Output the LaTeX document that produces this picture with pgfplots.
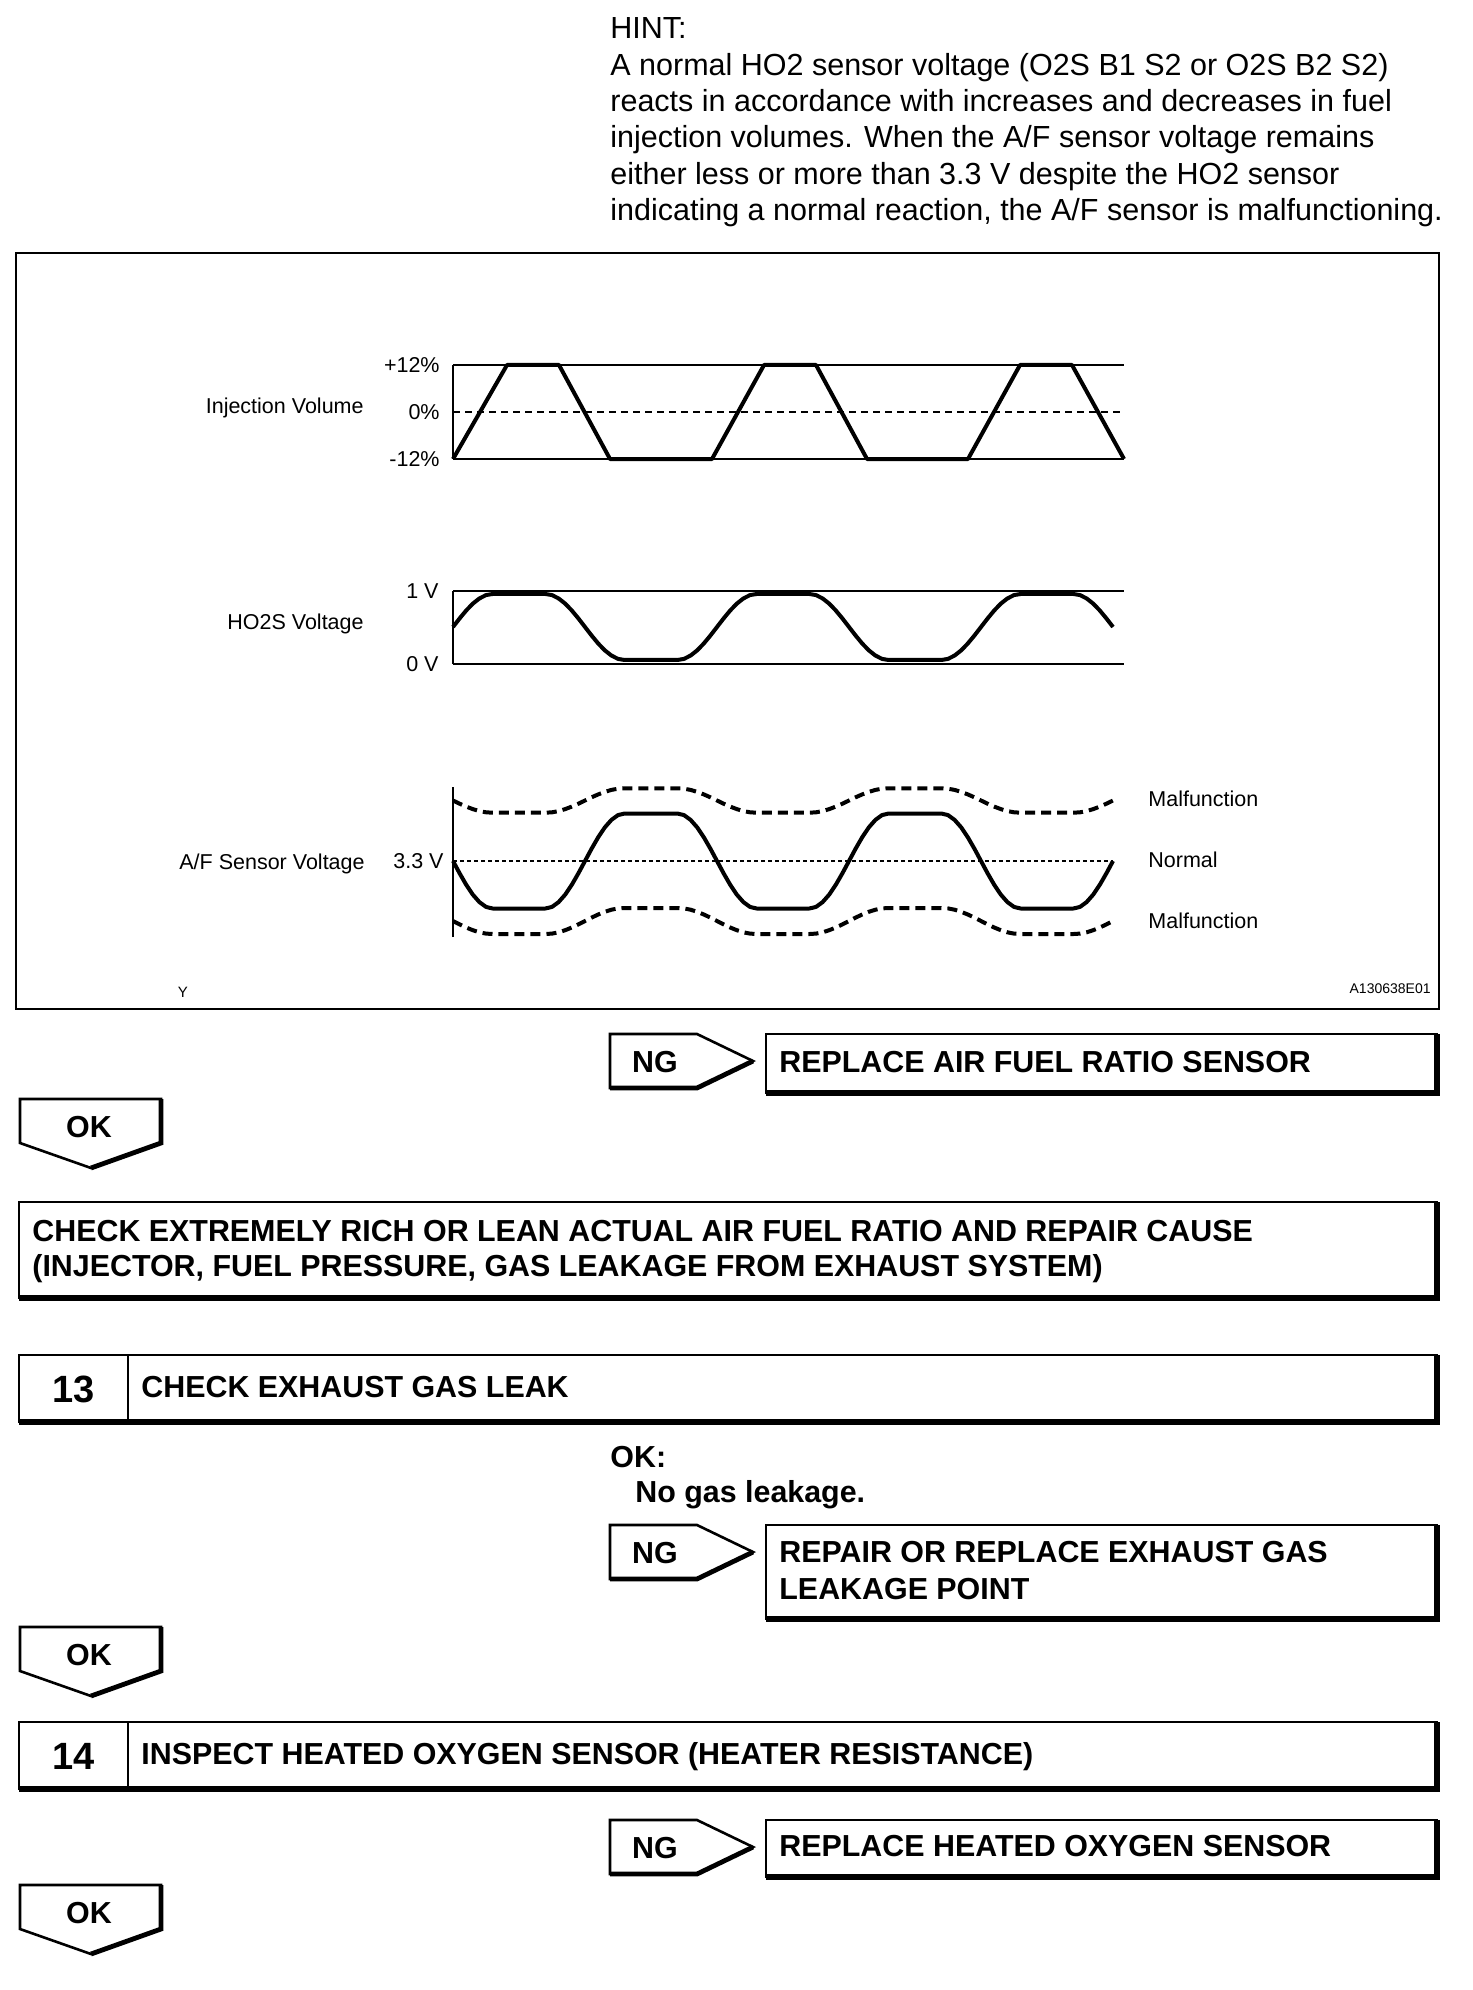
\documentclass[border=0pt]{standalone}
\usepackage{fontspec}
\setmainfont{Liberation Sans}
\usepackage{pgfplots}
\pgfplotsset{compat=1.18}
\usepackage{pgfplotstable}

% injection volume (percent) against time
\pgfplotstableread{
x y
453 -12
507 12
559 12
610 -12
712 -12
764 12
816 12
867 -12
968 -12
1020 12
1072 12
1124 -12
}\injtable

% HO2S voltage, A/F sensor (normal), malfunction high / low
\pgfplotstableread{
x ho2 af top bot
453 0.507 76 136.5 16
459.6 0.624 63.7 133.3 12.6
466.2 0.733 52.25 130.4 9.5
472.8 0.827 42.4 127.9 6.8
479.4 0.898 34.9 125.9 4.7
486 0.944 30.1 124.7 3.4
492.6 0.959 28.5 124.3 3
545.4 0.959 28.5 124.3 3
552 0.944 30.1 124.7 3.4
558.6 0.898 34.9 125.9 4.7
565.2 0.827 42.4 127.9 6.8
571.8 0.733 52.25 130.4 9.5
578.4 0.624 63.7 133.3 12.6
585 0.507 76 136.5 16
591.6 0.390 88.3 139.7 19.4
598.2 0.281 99.75 142.6 22.5
604.8 0.187 109.6 145.1 25.2
611.4 0.116 117.1 147.1 27.3
618 0.070 121.9 148.3 28.6
624.6 0.055 123.5 148.7 29
677.4 0.055 123.5 148.7 29
684 0.070 121.9 148.3 28.6
690.6 0.116 117.1 147.1 27.3
697.2 0.187 109.6 145.1 25.2
703.8 0.281 99.75 142.6 22.5
710.4 0.390 88.3 139.7 19.4
717 0.507 76 136.5 16
723.6 0.624 63.7 133.3 12.6
730.2 0.733 52.25 130.4 9.5
736.8 0.827 42.4 127.9 6.8
743.4 0.898 34.9 125.9 4.7
750 0.944 30.1 124.7 3.4
756.6 0.959 28.5 124.3 3
809.4 0.959 28.5 124.3 3
816 0.944 30.1 124.7 3.4
822.6 0.898 34.9 125.9 4.7
829.2 0.827 42.4 127.9 6.8
835.8 0.733 52.25 130.4 9.5
842.4 0.624 63.7 133.3 12.6
849 0.507 76 136.5 16
855.6 0.390 88.3 139.7 19.4
862.2 0.281 99.75 142.6 22.5
868.8 0.187 109.6 145.1 25.2
875.4 0.116 117.1 147.1 27.3
882 0.070 121.9 148.3 28.6
888.6 0.055 123.5 148.7 29
941.4 0.055 123.5 148.7 29
948 0.070 121.9 148.3 28.6
954.6 0.116 117.1 147.1 27.3
961.2 0.187 109.6 145.1 25.2
967.8 0.281 99.75 142.6 22.5
974.4 0.390 88.3 139.7 19.4
981 0.507 76 136.5 16
987.6 0.624 63.7 133.3 12.6
994.2 0.733 52.25 130.4 9.5
1000.8 0.827 42.4 127.9 6.8
1007.4 0.898 34.9 125.9 4.7
1014 0.944 30.1 124.7 3.4
1020.6 0.959 28.5 124.3 3
1073.4 0.959 28.5 124.3 3
1080 0.944 30.1 124.7 3.4
1086.6 0.898 34.9 125.9 4.7
1093.2 0.827 42.4 127.9 6.8
1099.8 0.733 52.25 130.4 9.5
1106.4 0.624 63.7 133.3 12.6
1113 0.507 76 136.5 16
}\wavetable

\newcommand{\hfont}{\fontsize{15.25}{18.1}\selectfont}
\newcommand{\bfont}{\fontsize{15.2}{18.1}\selectfont\bfseries}
\newcommand{\nfont}{\fontsize{19}{22}\selectfont\bfseries}
\newcommand{\cfont}{\fontsize{10.75}{13}\selectfont}

\newcommand{\tbox}[4]{%
  \draw[line width=1.3pt] (#1,#2) rectangle (#3,#4);
  \draw[line width=2.6pt] (#1,#4) -- (#3,#4) -- (#3,#2);}
\newcommand{\ngshape}[1]{% top y
  \draw[line width=1.3pt, line join=miter] (610,#1) -- (697,#1) -- (753,#1+27) -- (697,#1+54) -- (610,#1+54) -- cycle;
  \draw[line width=2.4pt] (610,#1+54) -- (697,#1+54) -- (753,#1+27);
  \node[anchor=base, inner sep=0pt] at (655,#1+38) {\bfont NG};}
\newcommand{\okshape}[1]{% top y
  \draw[line width=1.3pt, line join=miter] (20,#1) -- (161,#1) -- (161,#1+44) -- (91,#1+69) -- (20,#1+44) -- cycle;
  \draw[line width=2.4pt] (161,#1) -- (161,#1+44) -- (91,#1+69);
  \node[anchor=base, inner sep=0pt] at (89,#1+38) {\bfont OK};}

\begin{document}
\begin{tikzpicture}
\begin{scope}[x=0.5pt,y=-0.5pt]
\path[use as bounding box] (0,0) rectangle (1472,1990);
% HINT text
\foreach \yy/\tt in {39/{HINT:},
  75.3/{A normal HO2 sensor voltage (O2S B1 S2 or O2S B2 S2)},
  111.6/{reacts in accordance with increases and decreases in fuel},
  147.9/{injection volumes. When the A/F sensor voltage remains},
  184.2/{either less or more than 3.3 V despite the HO2 sensor},
  220.5/{indicating a normal reaction, the A/F sensor is malfunctioning.}}
  {\node[anchor=base west, inner sep=0pt] at (610,\yy) {\hfont\tt};}
% chart frame
\draw[line width=1.1pt] (16,253) rectangle (1439,1009);
% chart labels
\node[anchor=base east, inner sep=0pt] at (364,414) {\cfont Injection Volume};
\node[anchor=base east, inner sep=0pt] at (364,629) {\cfont HO2S Voltage};
\node[anchor=base east, inner sep=0pt] at (365,869) {\cfont A/F Sensor Voltage};
\node[anchor=base west, inner sep=0pt] at (1148,806) {\cfont Malfunction};
\node[anchor=base west, inner sep=0pt] at (1148,867) {\cfont Normal};
\node[anchor=base west, inner sep=0pt] at (1148,928) {\cfont Malfunction};
\node[anchor=base, inner sep=0pt] at (183,997) {\fontsize{7.5}{9}\selectfont Y};
\node[anchor=base east, inner sep=0pt] at (1431,993) {\fontsize{7}{9}\selectfont A130638E01};
% flow chart
\ngshape{1034}
\tbox{766}{1034}{1437}{1093}
\node[anchor=base west, inner sep=0pt] at (779,1072) {\bfont REPLACE AIR FUEL RATIO SENSOR};
\okshape{1099}
\tbox{19}{1202}{1437}{1298}
\node[anchor=base west, inner sep=0pt] at (32,1241) {\bfont CHECK EXTREMELY RICH OR LEAN ACTUAL AIR FUEL RATIO AND REPAIR CAUSE};
\node[anchor=base west, inner sep=0pt] at (32,1276) {\bfont (INJECTOR, FUEL PRESSURE, GAS LEAKAGE FROM EXHAUST SYSTEM)};
\tbox{19}{1355}{1437}{1422}
\draw[line width=1.3pt] (128,1355) -- (128,1422);
\node[anchor=base, inner sep=0pt] at (74,1402) {\nfont 13};
\node[anchor=base west, inner sep=0pt] at (141,1397) {\bfont CHECK EXHAUST GAS LEAK};
\node[anchor=base west, inner sep=0pt] at (610,1467) {\bfont OK:};
\node[anchor=base west, inner sep=0pt] at (635,1502) {\bfont No gas leakage.};
\ngshape{1525}
\tbox{766}{1525}{1437}{1619}
\node[anchor=base west, inner sep=0pt] at (779,1562) {\bfont REPAIR OR REPLACE EXHAUST GAS};
\node[anchor=base west, inner sep=0pt] at (779,1599) {\bfont LEAKAGE POINT};
\okshape{1627}
\tbox{19}{1722}{1437}{1789}
\draw[line width=1.3pt] (128,1722) -- (128,1789);
\node[anchor=base, inner sep=0pt] at (74,1769) {\nfont 14};
\node[anchor=base west, inner sep=0pt] at (141,1764) {\bfont INSPECT HEATED OXYGEN SENSOR (HEATER RESISTANCE)};
\ngshape{1820}
\tbox{766}{1820}{1437}{1877}
\node[anchor=base west, inner sep=0pt] at (779,1856) {\bfont REPLACE HEATED OXYGEN SENSOR};
\okshape{1885}
\end{scope}

\pgfplotsset{wave/.style={scale only axis, width=335.5pt, xmin=453, xmax=1124,
  axis x line=none, axis y line=left, axis line style={-, line width=0.9pt},
  major tick length=0pt, clip=false,
  yticklabel style={font=\cfont, inner sep=0pt}}}

% Injection volume
\begin{axis}[wave, at={(226.5pt,-182.5pt)}, anchor=north west, height=47pt,
  ymin=-12, ymax=12, ytick={-12,0,12}, yticklabels={-12\%,0\%,+12\%},
  yticklabel style={xshift=-6.5pt}]
\draw[line width=0.9pt] (axis cs:453,12) -- (axis cs:1124,12);
\draw[line width=0.9pt] (axis cs:453,-12) -- (axis cs:1124,-12);
\draw[line width=1pt, dash pattern=on 3.5pt off 2.5pt] (axis cs:453,0) -- (axis cs:1124,0);
\addplot[black, line width=2pt, line join=round] table[x=x, y=y] {\injtable};
\end{axis}

% HO2S voltage
\begin{axis}[wave, at={(226.5pt,-295.5pt)}, anchor=north west, height=36.5pt,
  ymin=0, ymax=1, ytick={0,1}, yticklabels={0 V,1 V},
  yticklabel style={xshift=-7pt}]
\draw[line width=0.9pt] (axis cs:453,1) -- (axis cs:1124,1);
\draw[line width=0.9pt] (axis cs:453,0) -- (axis cs:1124,0);
\addplot[black, line width=2pt, line join=round] table[x=x, y=ho2] {\wavetable};
\end{axis}

% A/F sensor voltage
\begin{axis}[wave, at={(226.5pt,-393.5pt)}, anchor=north west, height=75pt,
  ymin=0, ymax=150, ytick={76}, yticklabels={3.3 V},
  yticklabel style={xshift=-4.5pt}]
\draw[line width=0.6pt, dash pattern=on 2pt off 1.5pt] (axis cs:453,76) -- (axis cs:1113,76);
\addplot[black, line width=2pt, line join=round] table[x=x, y=af] {\wavetable};
\addplot[black, line width=2pt, dash pattern=on 5pt off 3pt] table[x=x, y=top] {\wavetable};
\addplot[black, line width=2pt, dash pattern=on 5pt off 3pt] table[x=x, y=bot] {\wavetable};
\end{axis}
\end{tikzpicture}
\end{document}
